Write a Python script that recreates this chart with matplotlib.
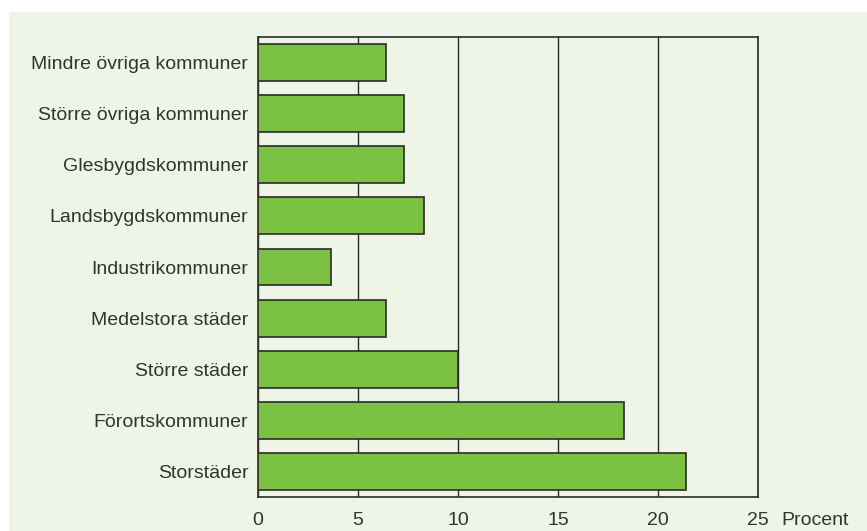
import matplotlib.pyplot as plt
import numpy as np
from matplotlib.patches import Rectangle

# =============================================================================
# Data
# =============================================================================

CATEGORIES = [
    "Mindre övriga kommuner",
    "Större övriga kommuner",
    "Glesbygdskommuner",
    "Landsbygdskommuner",
    "Industrikommuner",
    "Medelstora städer",
    "Större städer",
    "Förortskommuner",
    "Storstäder",
]

VALUES = [6.4, 7.3, 7.3, 8.3, 3.65, 6.4, 10.0, 18.3, 21.4]

X_TICKS = [0, 5, 10, 15, 20, 25]

# =============================================================================
# Style
# =============================================================================

PANEL_COLOR = "#eef4e6"
BAR_COLOR = "#7bc142"
EDGE_COLOR = "#2b2b2b"
TEXT_COLOR = "#333333"

plt.rcParams["font.family"] = ["Liberation Sans", "DejaVu Sans"]
plt.rcParams["font.size"] = 14


def main():
    fig = plt.figure(figsize=(8.67, 5.31), dpi=100)
    fig.patch.set_facecolor("white")

    # light green panel behind the chart
    fig.patches.append(
        Rectangle((9 / 867, 0), 1, 1 - 12 / 531,
                  transform=fig.transFigure, facecolor=PANEL_COLOR,
                  edgecolor="none", zorder=-10)
    )

    ax = fig.add_axes([258 / 867, 34 / 531, 500 / 867, 460 / 531])
    ax.set_facecolor(PANEL_COLOR)

    y = np.arange(len(CATEGORIES))
    ax.barh(y, VALUES, height=0.72, color=BAR_COLOR,
            edgecolor=EDGE_COLOR, linewidth=1.2, zorder=3)

    ax.set_ylim(len(CATEGORIES) - 0.5, -0.5)
    ax.set_xlim(0, 25)

    ax.set_yticks(y)
    ax.set_yticklabels(CATEGORIES, color=TEXT_COLOR)
    ax.set_xticks(X_TICKS)
    ax.set_xticklabels([str(t) for t in X_TICKS], color=TEXT_COLOR)
    ax.tick_params(axis="both", length=0)
    ax.tick_params(axis="y", pad=7)
    ax.tick_params(axis="x", pad=10.5)

    ax.grid(True, axis="x", color=EDGE_COLOR, linewidth=1.0, zorder=1)
    ax.set_axisbelow(True)

    for spine in ax.spines.values():
        spine.set_color(EDGE_COLOR)
        spine.set_linewidth(1.2)

    # unit label next to the last tick label
    ax.annotate("Procent", xy=(1.0, 0.0), xycoords="axes fraction",
                xytext=(17, -10.5), textcoords="offset points",
                color=TEXT_COLOR, ha="left", va="top")

    fig.savefig("out.png", dpi=100, facecolor=fig.get_facecolor())
    plt.close(fig)


if __name__ == "__main__":
    main()
